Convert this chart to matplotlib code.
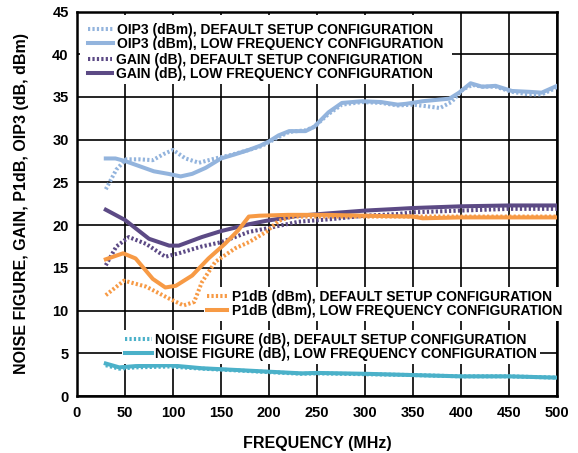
import matplotlib
matplotlib.use("Agg")
import matplotlib.pyplot as plt
from matplotlib.lines import Line2D

plt.rcParams['font.family'] = ['Liberation Sans', 'DejaVu Sans']
plt.rcParams['font.weight'] = 'bold'

# ---------------- data ----------------
oip3_low_f = [30, 40, 50, 65, 80, 95, 108, 120, 134, 150, 165, 179, 191, 200, 210, 221, 238, 247,
              262, 276, 297, 317, 334, 343, 360, 388, 398, 410, 422, 436, 453, 471, 484, 496, 500]
oip3_low_v = [27.8, 27.8, 27.5, 26.9, 26.3, 26.0, 25.7, 26.0, 26.7, 27.8, 28.3, 28.8, 29.3, 29.8,
              30.5, 31.0, 31.0, 31.5, 33.2, 34.3, 34.5, 34.4, 34.1, 34.2, 34.5, 34.8, 35.5, 36.6,
              36.2, 36.3, 35.7, 35.6, 35.5, 36.1, 36.3]

oip3_def_f = [30, 41, 51, 65, 79, 90, 100, 113, 127, 144, 160, 179, 191, 200, 210, 221, 238, 247,
              262, 276, 297, 317, 334, 350, 365, 378, 390, 402, 412, 422, 436, 453, 471, 484, 496, 500]
oip3_def_v = [24.2, 26.5, 27.7, 27.7, 27.6, 28.3, 28.8, 27.8, 27.3, 27.8, 28.2, 28.8, 29.2, 29.7,
              30.3, 30.9, 31.1, 31.5, 33.0, 34.1, 34.4, 34.3, 34.0, 34.1, 33.9, 33.7, 34.4, 35.9,
              36.4, 36.2, 36.2, 35.6, 35.3, 35.3, 35.9, 36.2]

gain_low_f = [30, 50, 75, 96, 106, 130, 150, 179, 197, 231, 265, 300, 334, 350, 400, 450, 500]
gain_low_v = [21.8, 20.6, 18.4, 17.6, 17.6, 18.6, 19.3, 20.1, 20.5, 21.1, 21.4, 21.7, 21.9, 22.0,
              22.2, 22.3, 22.3]

gain_def_f = [30, 41, 54, 72, 92, 106, 130, 150, 179, 197, 231, 265, 300, 334, 350, 400, 450, 500]
gain_def_v = [15.3, 17.5, 18.6, 17.8, 16.3, 16.7, 17.5, 18.0, 19.2, 19.6, 20.4, 20.7, 21.1, 21.3,
              21.5, 21.7, 21.9, 21.9]

p1db_low_f = [30, 48, 61, 79, 92, 103, 120, 137, 154, 168, 179, 190, 220, 260, 300, 350, 360, 400,
              450, 500]
p1db_low_v = [16.0, 16.7, 16.1, 13.7, 12.7, 12.9, 14.1, 16.1, 17.8, 19.4, 21.0, 21.1, 21.2, 21.2,
              21.1, 21.0, 20.8, 20.9, 20.9, 20.9]

p1db_def_f = [30, 49, 72, 96, 111, 122, 130, 144, 165, 179, 197, 210, 224, 260, 300, 350, 400, 450,
              500]
p1db_def_v = [11.8, 13.5, 12.8, 11.4, 10.6, 11.0, 13.3, 15.7, 17.3, 18.0, 19.2, 20.5, 21.0, 21.0,
              21.0, 21.0, 21.0, 21.0, 21.0]

nf_low_f = [30, 44, 61, 96, 130, 165, 199, 234, 250, 300, 350, 400, 450, 500]
nf_low_v = [3.8, 3.35, 3.5, 3.6, 3.25, 3.05, 2.85, 2.65, 2.7, 2.6, 2.45, 2.3, 2.3, 2.15]

nf_def_f = [30, 44, 61, 96, 130, 165, 199, 234, 250, 300, 350, 400, 450, 500]
nf_def_v = [3.6, 3.2, 3.35, 3.45, 3.2, 3.0, 2.8, 2.6, 2.65, 2.55, 2.45, 2.3, 2.3, 2.15]

x_ticks = [0, 50, 100, 150, 200, 250, 300, 350, 400, 450, 500]
y_ticks = [0, 5, 10, 15, 20, 25, 30, 35, 40, 45]

c_oip3 = '#93b4dd'
c_gain = '#5c4a85'
c_p1db = '#f79a45'
c_nf = '#4bb1c9'

W, H = 578, 453
fig = plt.figure(figsize=(W / 100, H / 100), dpi=100)
ax = fig.add_axes([77 / W, 1 - 396 / H, (557 - 77) / W, (396 - 11.5) / H])

lw = 2.9
dot = (0, (0.55, 0.55))

ax.plot(oip3_def_f, oip3_def_v, color=c_oip3, lw=lw, ls=dot, zorder=3)
ax.plot(oip3_low_f, oip3_low_v, color=c_oip3, lw=lw, zorder=3)
ax.plot(gain_def_f, gain_def_v, color=c_gain, lw=lw, ls=dot, zorder=3)
ax.plot(gain_low_f, gain_low_v, color=c_gain, lw=lw, zorder=3)
ax.plot(p1db_def_f, p1db_def_v, color=c_p1db, lw=lw, ls=dot, zorder=3)
ax.plot(p1db_low_f, p1db_low_v, color=c_p1db, lw=lw, zorder=3)
ax.plot(nf_def_f, nf_def_v, color=c_nf, lw=lw, ls=dot, zorder=3)
ax.plot(nf_low_f, nf_low_v, color=c_nf, lw=lw, zorder=3)

ax.set_xlim(0, 500)
ax.set_ylim(0, 45)
ax.set_xticks(x_ticks)
ax.set_yticks(y_ticks)
ax.tick_params(axis='both', length=0, labelsize=10.5)
ax.tick_params(axis='x', pad=7)
ax.tick_params(axis='y', pad=6)
for lab in ax.get_xticklabels() + ax.get_yticklabels():
    lab.set_fontweight('bold')
ax.grid(True, color='black', lw=1.2, zorder=1)
for s in ax.spines.values():
    s.set_linewidth(1.8)
ax.set_axisbelow(True)

ax.set_xlabel('FREQUENCY (MHz)', fontsize=11.5, fontweight='bold', labelpad=12)
ax.set_ylabel('NOISE FIGURE, GAIN, P1dB, OIP3 (dB, dBm)', fontsize=11.5, fontweight='bold',
              labelpad=17)


def mk_legend(items, x, y, handlelen=1.75, textpad=0.3, bpad=0.25):
    handles = [Line2D([], [], color=c, lw=lw, ls=l) for c, l, _ in items]
    labels = [t for _, _, t in items]
    leg = ax.legend(handles, labels, loc='upper left', bbox_to_anchor=(x / W, 1 - y / H),
                    bbox_transform=fig.transFigure, frameon=True, fancybox=False,
                    facecolor='white', edgecolor='none', framealpha=1, borderpad=bpad,
                    borderaxespad=0, labelspacing=0.0, handlelength=handlelen,
                    handletextpad=textpad, prop={'size': 10, 'weight': 'bold'})
    leg.set_zorder(5)
    ax.add_artist(leg)
    return leg


mk_legend([(c_oip3, dot, 'OIP3 (dBm), DEFAULT SETUP CONFIGURATION'),
           (c_oip3, '-', 'OIP3 (dBm), LOW FREQUENCY CONFIGURATION')], 80, 14.5, bpad=0.6)
mk_legend([(c_gain, dot, 'GAIN (dB), DEFAULT SETUP CONFIGURATION'),
           (c_gain, '-', 'GAIN (dB), LOW FREQUENCY CONFIGURATION')], 84.5, 49.5)
mk_legend([(c_p1db, dot, 'P1dB (dBm), DEFAULT SETUP CONFIGURATION'),
           (c_p1db, '-', 'P1dB (dBm), LOW FREQUENCY CONFIGURATION')], 203.5, 286.5,
          handlelen=1.45, textpad=0.36)
mk_legend([(c_nf, dot, 'NOISE FIGURE (dB), DEFAULT SETUP CONFIGURATION'),
           (c_nf, '-', 'NOISE FIGURE (dB), LOW FREQUENCY CONFIGURATION')], 121.5, 329.5,
          handlelen=1.95, textpad=0.2)

fig.savefig('out.png', dpi=100)
